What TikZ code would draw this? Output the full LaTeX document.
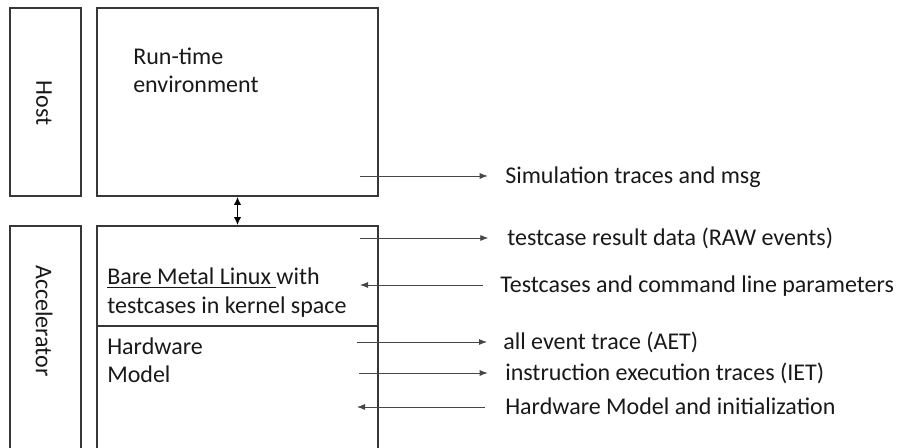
\documentclass[tikz,border=0pt]{standalone}
\usepackage{fontspec}
\setmainfont{Carlito}
\usetikzlibrary{arrows.meta}
\definecolor{boxline}{RGB}{55, 55, 55}
\definecolor{flowline}{RGB}{70, 70, 70}
\definecolor{labeltext}{RGB}{25, 25, 25}

\begin{document}
\begin{tikzpicture}[x=0.75pt, y=-0.75pt, font=\fontsize{18}{21}\selectfont,
    frame/.style={draw=boxline, line width=1.2pt, inner sep=0pt},
    flow/.style={draw=flowline, line width=0.6pt, -{Latex[length=6pt, width=4.5pt]}},
    lbl/.style={anchor=base west, inner sep=0pt, text=labeltext}]
  \useasboundingbox (0,0) rectangle (903,448);
  \clip (0,0) rectangle (903,448);
  % side bars
  \node[frame, minimum width=53.25pt, minimum height=141pt] (host) at (45.5,102) {};
  \node[frame, minimum width=53.25pt, minimum height=183pt] (accel) at (45.5,348) {};
  \node[rotate=-90, text=labeltext] (hostlbl) at (44,103) {Host};
  \node[rotate=-90, text=labeltext] (accellbl) at (44,321) {Accelerator};
  % main boxes
  \node[frame, minimum width=210.75pt, minimum height=141pt] (rte) at (237.5,102) {};
  \node[frame, minimum width=210.75pt, minimum height=183pt] (dut) at (237.5,348) {};
  \coordinate (split) at (97,326);
  \draw[boxline, line width=1.2pt] (split) -- (split -| dut.east);
  \draw[{Latex[length=6pt, width=5.5pt]}-{Latex[length=6pt, width=5.5pt]}, line width=1.4pt]
       (rte.south) -- (dut.north);
  % box texts
  \node[lbl] (rtelbl) at (133,65) {Run-time};
  \node[lbl] (rtelbl2) at (133,93) {environment};
  \node[lbl] (bml) at (107,285) {\underline{Bare Metal Linux }with};
  \node[lbl] (bml2) at (107,314) {testcases in kernel space};
  \node[lbl] (hw) at (107,355) {Hardware};
  \node[lbl] (hw2) at (107,383) {Model};
  % outgoing and incoming flows
  \node[lbl] (sim) at (505,184) {Simulation traces and msg};
  \node[lbl] (raw) at (507,246) {testcase result data (RAW events)};
  \node[lbl] (tcs) at (500,293) {Testcases and command line parameters};
  \node[lbl] (aet) at (503,350) {all event trace (AET)};
  \node[lbl] (iet) at (505,381) {instruction execution traces (IET)};
  \node[lbl] (init) at (505,415) {Hardware Model and initialization};
  \coordinate (simS) at (360,176);
  \coordinate (rawS) at (360,238);
  \coordinate (tcsE) at (360,285);
  \coordinate (aetS) at (357,342);
  \coordinate (ietS) at (359,373);
  \coordinate (initE) at (357,407);
  \draw[flow] (simS) -- (simS -| sim.west) [shorten >=13pt];
  \draw[flow] (rawS) -- (rawS -| raw.west) [shorten >=14pt];
  \draw[flow] (tcsE -| tcs.west) [shorten <=13pt] -- (tcsE);
  \draw[flow] (aetS) -- (aetS -| aet.west) [shorten >=12pt];
  \draw[flow] (ietS) -- (ietS -| iet.west) [shorten >=13pt];
  \draw[flow] (initE -| init.west) [shorten <=15pt] -- (initE);
\end{tikzpicture}
\end{document}
